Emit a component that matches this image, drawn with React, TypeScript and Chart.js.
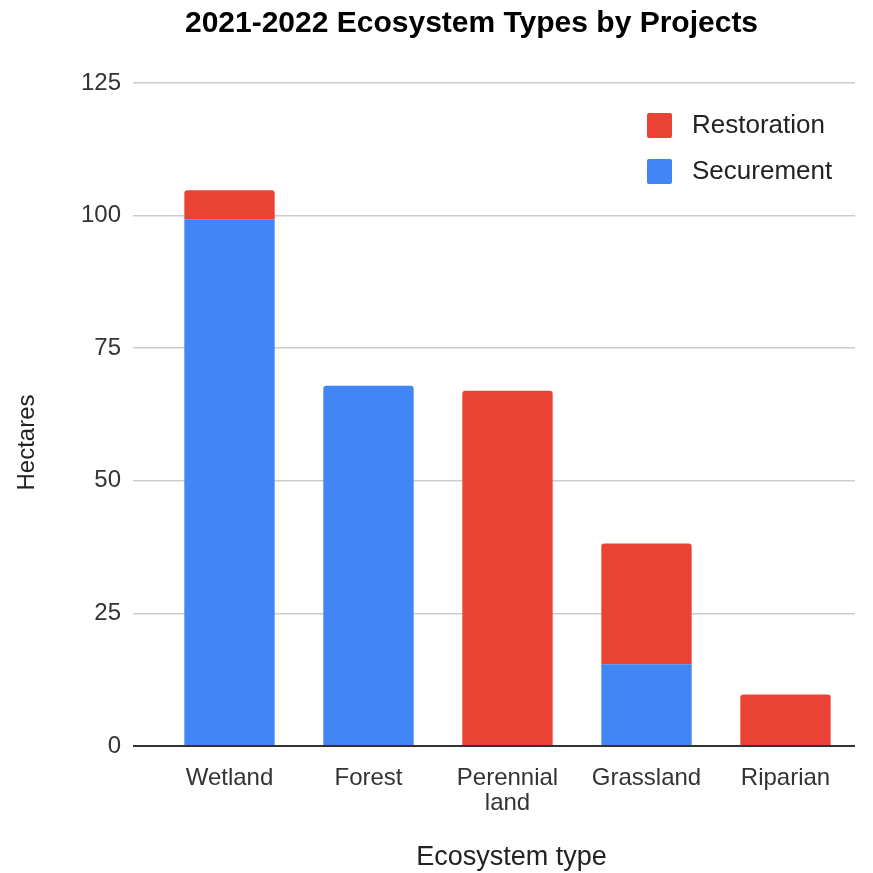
import React, { useEffect, useRef } from "react";
import { Chart, registerables } from "chart.js";

Chart.register(...registerables);

const TITLE = "2021-2022 Ecosystem Types by Projects";
const X_TITLE = "Ecosystem type";
const Y_TITLE = "Hectares";
const CATEGORIES: (string | string[])[] = ["Wetland", "Forest", ["Perennial", "land"], "Grassland", "Riparian"];
const SECUREMENT = [99.3, 67.9, 0, 15.4, 0];
const RESTORATION = [5.5, 0, 67.0, 22.8, 9.7];
const Y_MIN = 0;
const Y_MAX = 125;
const Y_STEP = 25;

const BLUE = "#4285F4";
const RED = "#EA4335";
const FONT = "'Liberation Sans', Arial, sans-serif";

const overlayPlugin = {
  id: "overlay",
  afterDraw(chart: any) {
    const ctx = chart.ctx;
    const ca = chart.chartArea;
    ctx.save();
    // Title
    ctx.fillStyle = "#000";
    ctx.font = `bold 30px ${FONT}`;
    ctx.textAlign = "center";
    ctx.textBaseline = "middle";
    ctx.fillText(TITLE, (ca.left + ca.right) / 2 - 36, 24);
    // Y title
    ctx.save();
    ctx.translate(27, (ca.top + ca.bottom) / 2 + 28);
    ctx.rotate(-Math.PI / 2);
    ctx.fillStyle = "#222";
    ctx.font = `24px ${FONT}`;
    ctx.fillText(Y_TITLE, 0, 0);
    ctx.restore();
    // X title
    ctx.fillStyle = "#222";
    ctx.font = `27px ${FONT}`;
    ctx.fillText(X_TITLE, (ca.left + ca.right) / 2 + 4, 858);
    // Legend (Restoration first)
    const items = [
      { label: chart.data.datasets[1].label, color: RED },
      { label: chart.data.datasets[0].label, color: BLUE },
    ];
    ctx.textAlign = "left";
    ctx.font = `26px ${FONT}`;
    items.forEach((it, i) => {
      const cy = 125 + i * 46;
      ctx.fillStyle = it.color;
      ctx.beginPath();
      (ctx as any).roundRect ? (ctx as any).roundRect(647, cy - 12, 25, 25, 2) : ctx.rect(647, cy - 12, 25, 25);
      ctx.fill();
      ctx.fillStyle = "#222";
      ctx.fillText(it.label, 692, cy + 1);
    });
    ctx.restore();
  },
};

export default function App() {
  const ref = useRef<HTMLCanvasElement>(null);
  useEffect(() => {
    if (!ref.current) return;
    const chart = new Chart(ref.current, {
      type: "bar",
      data: {
        labels: CATEGORIES as any,
        datasets: [
          {
            label: "Securement",
            data: SECUREMENT,
            backgroundColor: BLUE,
            barPercentage: 0.65,
            categoryPercentage: 1,
            borderSkipped: false,
            borderRadius: (c: any) =>
              RESTORATION[c.dataIndex] > 0
                ? 0
                : { topLeft: 3, topRight: 3, bottomLeft: 0, bottomRight: 0 },
          } as any,
          {
            label: "Restoration",
            data: RESTORATION,
            backgroundColor: RED,
            barPercentage: 0.65,
            categoryPercentage: 1,
            borderSkipped: false,
            borderRadius: { topLeft: 3, topRight: 3, bottomLeft: 0, bottomRight: 0 },
          } as any,
        ],
      },
      options: {
        animation: false,
        responsive: false,
        layout: { padding: { left: 40, right: 18, top: 83, bottom: 0 } },
        plugins: {
          legend: { display: false },
          title: { display: false },
          tooltip: { enabled: false },
        },
        scales: {
          x: {
            stacked: true,
            grid: { display: false },
            border: { display: false },
            ticks: {
              color: "#333",
              font: { family: FONT, size: 24, lineHeight: 1.05 },
              padding: 12,
              maxRotation: 0,
              autoSkip: false,
            },
            afterFit: (s: any) => {
              s.height = 127;
            },
          },
          y: {
            stacked: true,
            min: Y_MIN,
            max: Y_MAX,
            border: { display: false },
            grid: {
              color: (c: any) => (c.tick && c.tick.value === 0 ? "#333" : "#ccc"),
              lineWidth: (c: any) => (c.tick && c.tick.value === 0 ? 2 : 1.5),
              drawTicks: true,
              tickLength: 27,
              tickColor: (c: any) => (c.tick && c.tick.value === 0 ? "#333" : "#ccc"),
            },
            ticks: {
              stepSize: Y_STEP,
              color: "#333",
              font: { family: FONT, size: 24 },
              padding: 12,
            },
            afterFit: (s: any) => {
              s.width = 120;
            },
          },
        },
      },
      plugins: [overlayPlugin],
    });
    return () => chart.destroy();
  }, []);
  return (
    <div style={{ position: "absolute", left: 0, top: 0, width: 873, height: 873, background: "#fff" }}>
      <canvas ref={ref} width={873} height={873} style={{ display: "block" }} />
    </div>
  );
}
